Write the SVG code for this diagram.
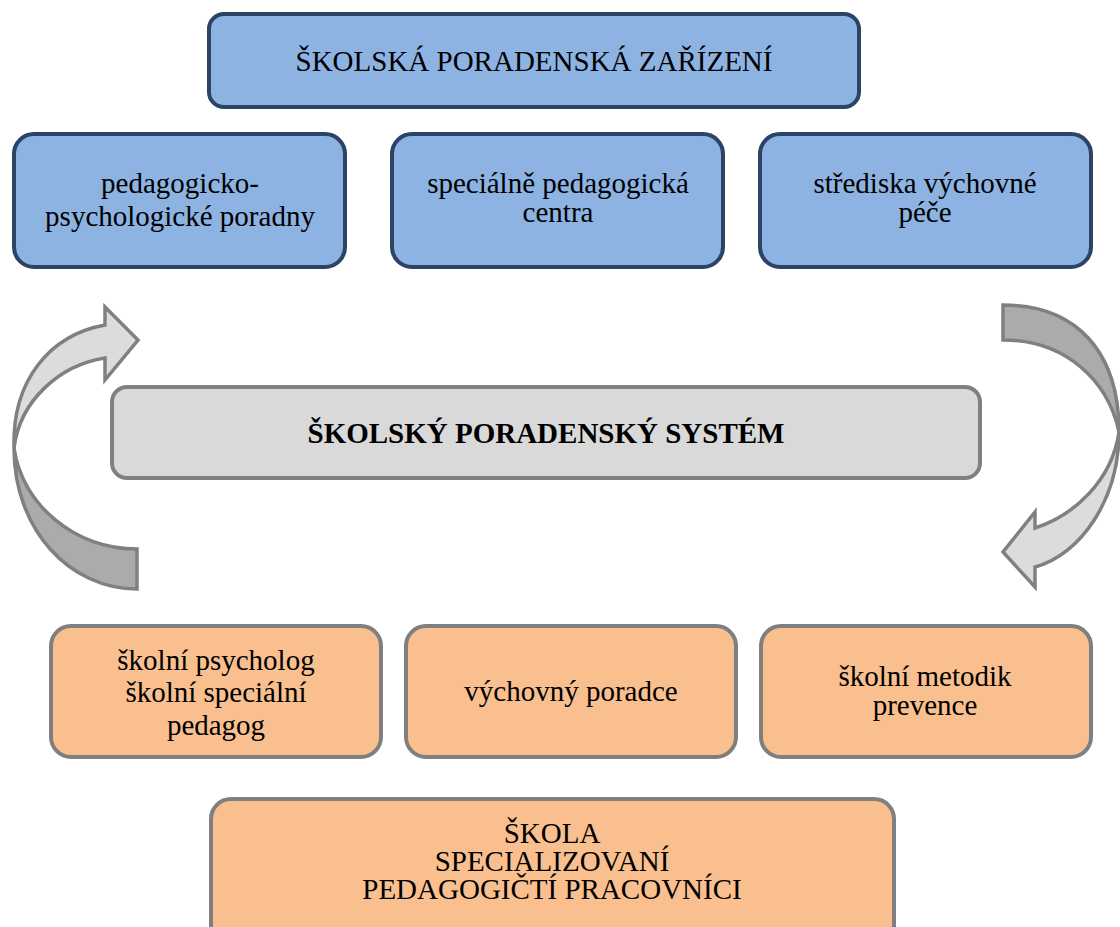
<svg xmlns="http://www.w3.org/2000/svg" width="1120" height="927" viewBox="0 0 1120 927">
<style>
.blue{fill:#8db3e2;stroke:#2b4365;stroke-width:4}
.gray{fill:#d9d9d9;stroke:#808080;stroke-width:4}
.orange{fill:#f9bf8f;stroke:#7f7f7f;stroke-width:4}
.t{font-family:"Liberation Serif","Times New Roman",serif;font-size:29px;fill:#000;text-anchor:middle}
.b{font-weight:bold}
.arrL{fill:#dcdcdc;stroke:#808080;stroke-width:3.5;stroke-linejoin:miter}
.arrD{fill:#ababab;stroke:#808080;stroke-width:3.5;stroke-linejoin:miter}
</style>
<g id="connectors">
<path class="arrD" d="M137,549 C75,549 22,505 14,448 C14,530 70,589 137,589 Z"/>
<path class="arrL" d="M14,448 C12,380 50,335 105,325 L105,307 L138,340 L105,380 L105,358 C60,365 20,400 14,448 Z"/>
<path class="arrD" d="M1003,305 C1075,305 1119,350 1119,432 C1108,380 1065,340 1003,340 Z"/>
<path class="arrL" d="M1119,432 C1119,500 1080,555 1035,567 L1035,587 L1003,552 L1035,512 L1035,528 C1075,515 1112,480 1119,432 Z"/>
</g>
<g id="n-zarizeni"><rect class="blue" x="209" y="14" width="650" height="93" rx="15"/><text class="t" x="534" y="71">ŠKOLSKÁ PORADENSKÁ ZAŘÍZENÍ</text></g>
<g id="n-ppp"><rect class="blue" x="14" y="134" width="331" height="133" rx="20"/><text class="t" x="180" y="193">pedagogicko-</text><text class="t" x="180" y="226">psychologické poradny</text></g>
<g id="n-spc"><rect class="blue" x="392" y="134" width="331" height="133" rx="20"/><text class="t" x="558" y="193">speciálně pedagogická</text><text class="t" x="558" y="222">centra</text></g>
<g id="n-svp"><rect class="blue" x="760" y="134" width="331" height="133" rx="20"/><text class="t" x="925" y="193">střediska výchovné</text><text class="t" x="925" y="222">péče</text></g>
<g id="n-system"><rect class="gray" x="112" y="387" width="868" height="91" rx="15"/><text class="t b" x="546" y="443">ŠKOLSKÝ PORADENSKÝ SYSTÉM</text></g>
<g id="n-psycholog"><rect class="orange" x="51" y="626" width="330" height="131" rx="20"/><text class="t" x="216" y="670">školní psycholog</text><text class="t" x="216" y="702">školní speciální</text><text class="t" x="216" y="735">pedagog</text></g>
<g id="n-poradce"><rect class="orange" x="406" y="626" width="330" height="131" rx="20"/><text class="t" x="571" y="701">výchovný poradce</text></g>
<g id="n-metodik"><rect class="orange" x="761" y="626" width="330" height="131" rx="20"/><text class="t" x="925" y="686">školní metodik</text><text class="t" x="925" y="715">prevence</text></g>
<g id="n-skola"><rect class="orange" x="211" y="799" width="683" height="150" rx="20"/><text class="t" x="552" y="843">ŠKOLA</text><text class="t" x="552" y="871">SPECIALIZOVANÍ</text><text class="t" x="552" y="899">PEDAGOGIČTÍ PRACOVNÍCI</text></g>
</svg>
